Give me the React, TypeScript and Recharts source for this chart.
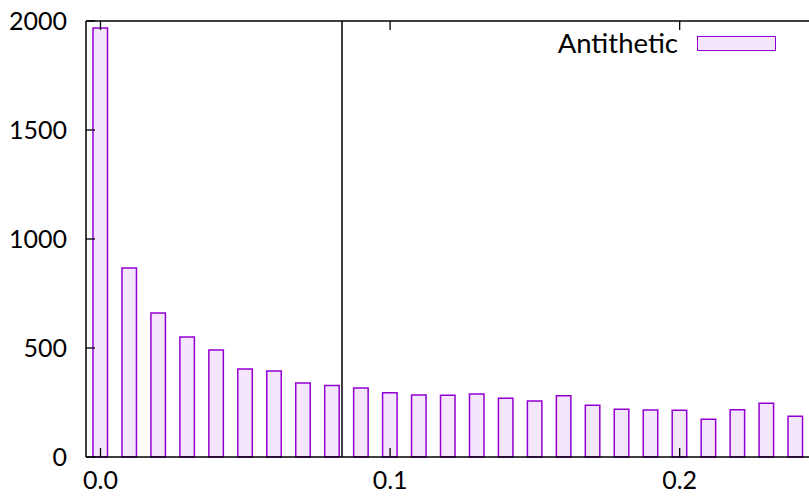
import { Bar, ComposedChart, Legend, ReferenceLine, XAxis, YAxis } from "recharts"

// bin centres and counts
const binCentres = [
    0.0, 0.01, 0.02, 0.03, 0.04, 0.05, 0.06, 0.07, 0.08, 0.09, 0.1, 0.11, 0.12,
    0.13, 0.14, 0.15, 0.16, 0.17, 0.18, 0.19, 0.2, 0.21, 0.22, 0.23, 0.24,
]
const antithetic = [
    1968, 867, 660, 550, 491, 404, 394, 339, 328, 316, 295, 284, 283,
    289, 269, 257, 281, 237, 219, 216, 214, 173, 217, 246, 187,
]
const xTicks = [0, 0.1, 0.2]
const yTicks = [0, 500, 1000, 1500, 2000]
const markerX = 0.0834

const data = binCentres.map((x, i) => ({ x, count: antithetic[i] }))

const FONT = "Lato, 'DejaVu Sans', sans-serif"
const BAR_STROKE = "#9400d3"
const BAR_FILL = "#f4e6fb"

const LeftTick = ({ x, y, payload }: any) => (
    <g>
        <line x1={x} x2={x + 9} y1={y} y2={y} stroke="#000" strokeWidth={1.3} />
        <text x={x - 19} y={y} dy="0.36em" textAnchor="end" fontSize={25} fontFamily={FONT} fill="#000">
            {payload.value}
        </text>
    </g>
)

const RightTick = ({ x, y }: any) => (
    <line x1={x - 9} x2={x} y1={y} y2={y} stroke="#000" strokeWidth={1.3} />
)

const BottomTick = ({ x, y, payload }: any) => (
    <g>
        <line x1={x} x2={x} y1={y} y2={y - 9} stroke="#000" strokeWidth={1.3} />
        <text x={x} y={y + 23} dy="0.36em" textAnchor="middle" fontSize={25} fontFamily={FONT} fill="#000">
            {Number(payload.value).toFixed(1)}
        </text>
    </g>
)

const TopTick = ({ x, y }: any) => (
    <line x1={x} x2={x} y1={y} y2={y + 9} stroke="#000" strokeWidth={1.3} />
)

const LegendBox = () => (
    <div style={{ display: "flex", alignItems: "center", justifyContent: "flex-end", fontFamily: FONT, fontSize: 27.5 }}>
        <span style={{ color: "#000", lineHeight: "30px" }}>Antithetic</span>
        <span
            style={{
                display: "inline-block",
                width: 77,
                height: 13,
                marginLeft: 19,
                background: BAR_FILL,
                border: `1.5px solid ${BAR_STROKE}`,
            }}
        />
    </div>
)

export default function App() {
    return (
        <div style={{ position: "absolute", left: 0, top: 0, width: 809, height: 498, overflow: "hidden", background: "#fff" }}>
            <ComposedChart width={830} height={498} data={data} margin={{ top: 20, right: 0, bottom: 0, left: 0 }}>
                <XAxis
                    dataKey="x"
                    type="number"
                    domain={[-0.005, 0.245]}
                    allowDataOverflow
                    ticks={xTicks}
                    height={41}
                    tickSize={0}
                    tickMargin={0}
                    tickLine={false}
                    tick={<BottomTick />}
                    axisLine={{ stroke: "#000", strokeWidth: 1.5 }}
                    interval={0}
                />
                <XAxis
                    xAxisId="top"
                    orientation="top"
                    dataKey="x"
                    type="number"
                    domain={[-0.005, 0.245]}
                    allowDataOverflow
                    ticks={xTicks}
                    height={1}
                    tickSize={0}
                    tickMargin={0}
                    tickLine={false}
                    tick={<TopTick />}
                    axisLine={{ stroke: "#000", strokeWidth: 1.5 }}
                    interval={0}
                />
                <YAxis
                    type="number"
                    domain={[0, 2000]}
                    ticks={yTicks}
                    width={86}
                    tickSize={0}
                    tickMargin={0}
                    tickLine={false}
                    tick={<LeftTick />}
                    axisLine={{ stroke: "#000", strokeWidth: 1.5 }}
                    interval={0}
                />
                <YAxis
                    yAxisId="r"
                    orientation="right"
                    type="number"
                    domain={[0, 2000]}
                    ticks={yTicks}
                    width={20}
                    tickSize={0}
                    tickMargin={0}
                    tickLine={false}
                    tick={<RightTick />}
                    axisLine={{ stroke: "#000", strokeWidth: 1.5 }}
                    interval={0}
                />
                <Legend
                    layout="vertical"
                    align="center"
                    verticalAlign="middle"
                    content={<LegendBox />}
                    wrapperStyle={{ left: 500, top: 28, width: 276, height: 30 }}
                />
                <Bar
                    dataKey="count"
                    name="Antithetic"
                    barSize={14.5}
                    fill={BAR_FILL}
                    stroke={BAR_STROKE}
                    strokeWidth={1.5}
                    isAnimationActive={false}
                />
                <ReferenceLine x={markerX} stroke="#000" strokeWidth={1.5} />
            </ComposedChart>
        </div>
    )
}
